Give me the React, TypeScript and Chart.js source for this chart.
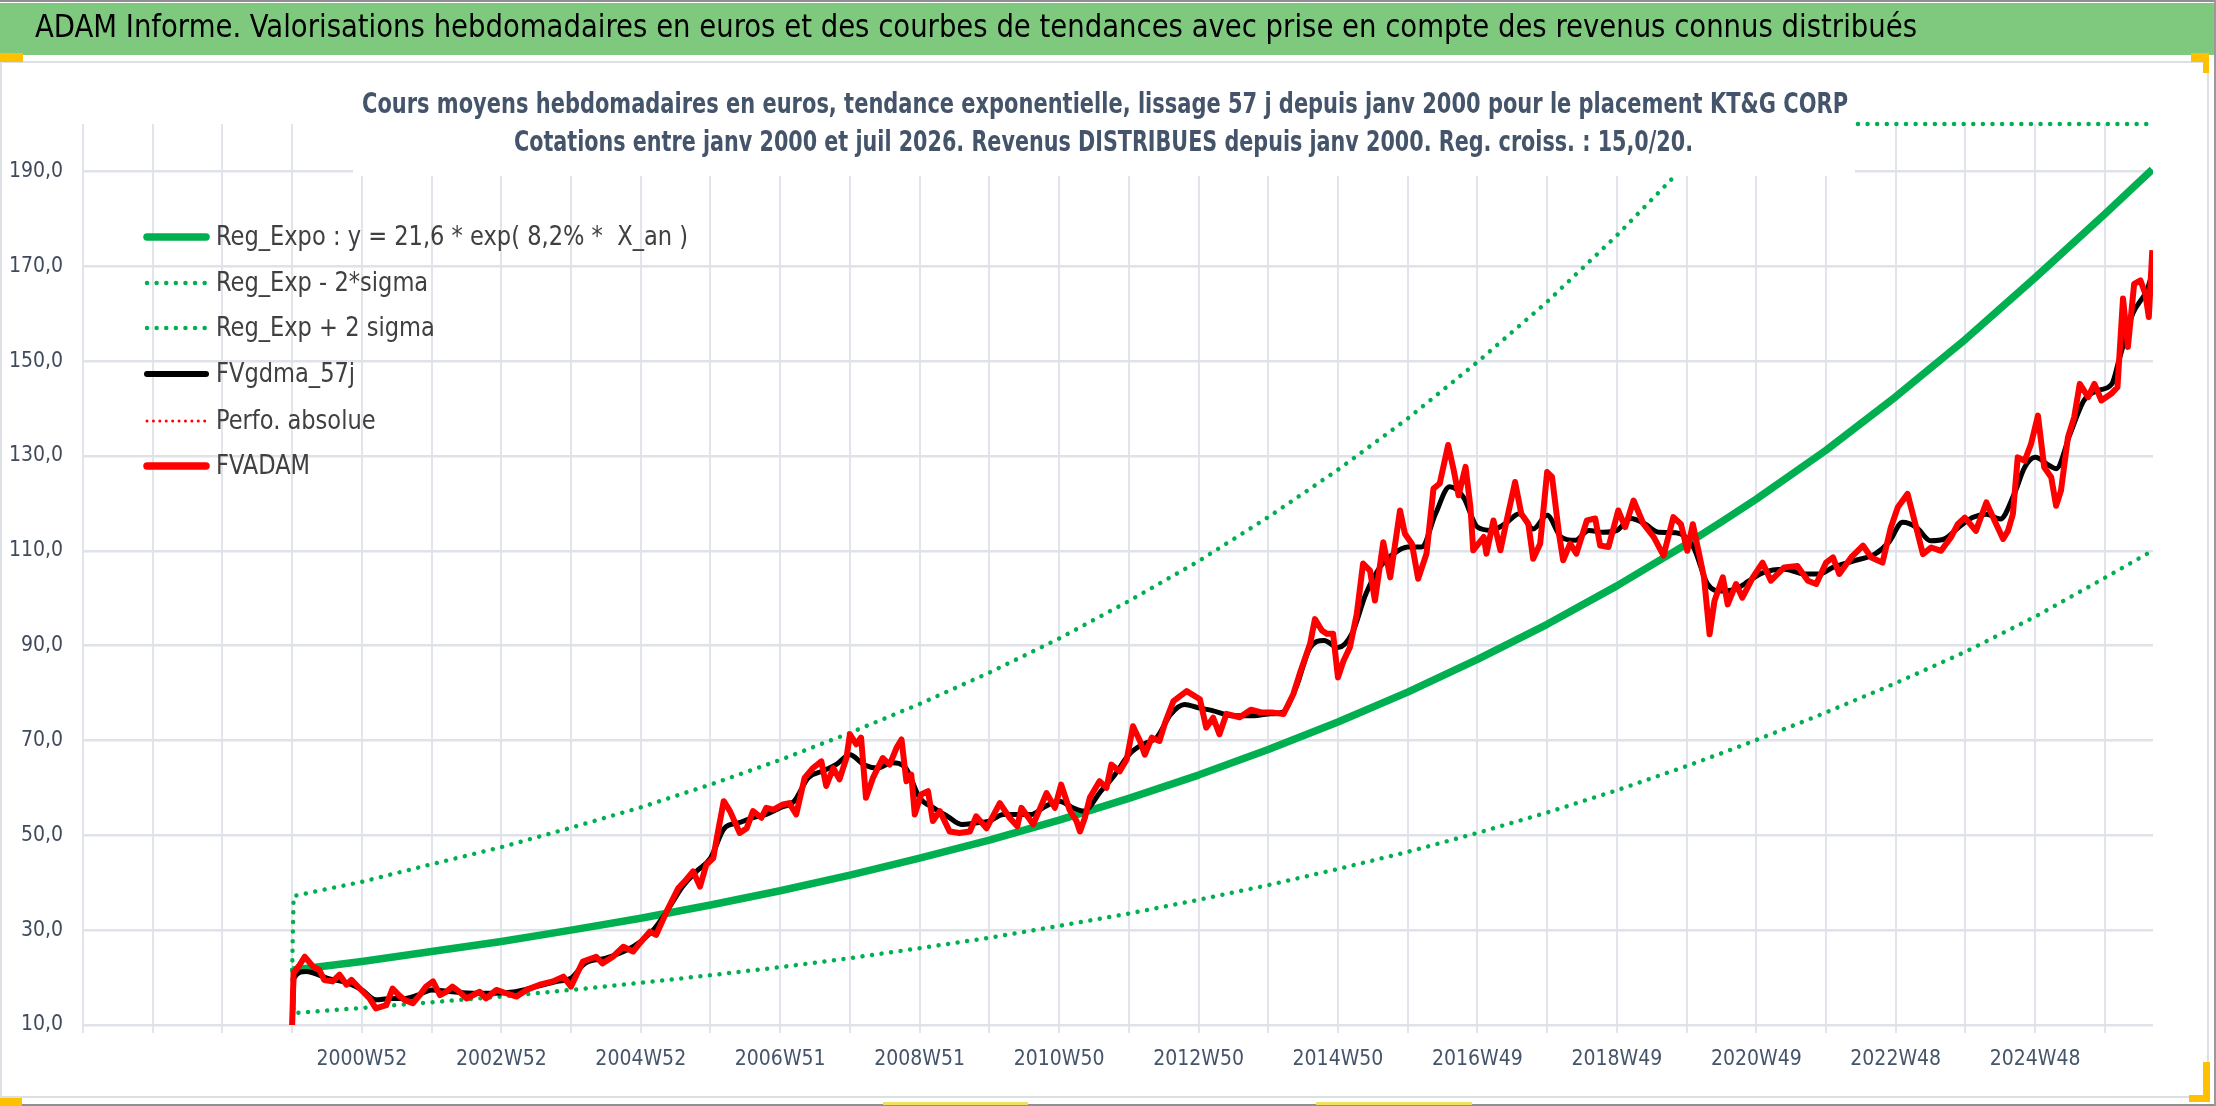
import { useEffect, useRef } from 'react';
import { Chart, registerables } from 'chart.js';

Chart.register(...registerables);

const FONT = '"Liberation Sans Narrow", "DejaVu Sans Condensed", "Open Sans", sans-serif';
const GREEN = '#00b050';
const RED = '#ff0000';

const mainTitle =
  'ADAM Informe. Valorisations hebdomadaires en euros et des courbes de tendances avec prise en compte des revenus connus distribués';
const subTitle = [
  'Cours moyens hebdomadaires en euros, tendance exponentielle, lissage 57 j depuis janv 2000 pour le placement KT&G CORP',
  'Cotations entre janv 2000 et juil 2026. Revenus DISTRIBUES depuis janv 2000. Reg. croiss. : 15,0/20.',
];
const seriesNames = [
  'Reg_Expo : y = 21,6 * exp( 8,2% *  X_an )',
  'Reg_Exp - 2*sigma',
  'Reg_Exp + 2 sigma',
  'FVgdma_57j',
  'Perfo. absolue',
  'FVADAM',
];

// x is counted in 52-week steps, 2000 = first week of 2000
const gridYears = Array.from({ length: 30 }, (_, i) => 1997 + i);
const labelYears = [2001, 2003, 2005, 2007, 2009, 2011, 2013, 2015, 2017, 2019, 2021, 2023, 2025];
const xTickLabels = [
  '2000W52', '2002W52', '2004W52', '2006W51', '2008W51', '2010W50', '2012W50',
  '2014W50', '2016W49', '2018W49', '2020W49', '2022W48', '2024W48',
];
const yTicks = [10, 30, 50, 70, 90, 110, 130, 150, 170, 190];

// trend curves
const trendYears = [
  2000, 2000.02, 2001, 2002, 2003, 2004, 2005, 2006, 2007, 2008, 2009, 2010, 2011, 2012, 2013,
  2014, 2015, 2016, 2017, 2018, 2019, 2020, 2020.5, 2021, 2022, 2023, 2024, 2025, 2026, 2026.68,
];
const regExpo = [
  21.6, 21.6, 23.4, 25.5, 27.6, 30.0, 32.5, 35.3, 38.3, 41.6, 45.2, 49.0, 53.2, 57.8, 62.7,
  68.1, 73.9, 80.2, 87.1, 94.5, 102.6, 111.4, 116.1, 120.9, 131.2, 142.5, 154.6, 167.6, 181.0, 190.4,
];
const regMinus2Sigma = [
  21.6, 12.5, 13.6, 14.8, 16.0, 17.4, 18.9, 20.5, 22.2, 24.1, 26.2, 28.4, 30.9, 33.5, 36.4,
  39.5, 42.9, 46.5, 50.5, 54.8, 59.5, 64.6, 67.3, 70.1, 75.9, 82.1, 88.7, 96.1, 104.3, 110.0,
];
// sits on the top edge of the plot once it leaves the scale
const regPlus2Sigma = [
  21.6, 37.2, 40.2, 43.9, 47.5, 51.6, 55.9, 60.7, 65.9, 71.6, 77.7, 84.3, 91.5, 99.4, 107.8,
  117.1, 127.1, 137.9, 149.8, 162.5, 176.5, 191.6, 200, 200, 200, 200, 200, 200, 200, 200,
];

const fvgdma57j: [number, number][] = [
  [2000.0, 10], [2000.03, 20.0], [2000.2, 21.3], [2000.5, 19.9], [2000.8, 18.8], [2001.0, 17.4],
  [2001.2, 15.3], [2001.4, 15.6], [2001.6, 15.6], [2001.8, 16.3], [2002.0, 17.4], [2002.3, 17.0],
  [2002.6, 16.7], [2002.9, 16.7], [2003.2, 17.0], [2003.5, 18.1], [2003.8, 19.2], [2004.0, 19.9],
  [2004.2, 23.0], [2004.5, 24.1], [2004.8, 25.8], [2005.0, 27.6], [2005.2, 30.4], [2005.4, 34.6],
  [2005.6, 39.2], [2005.8, 42.4], [2006.0, 45.2], [2006.2, 51.5], [2006.4, 52.6], [2006.6, 53.7],
  [2006.8, 54.4], [2007.0, 55.8], [2007.2, 57.2], [2007.4, 62.1], [2007.6, 63.5], [2007.8, 64.9],
  [2008.0, 67.0], [2008.2, 64.9], [2008.4, 64.2], [2008.6, 65.3], [2008.8, 64.2], [2009.0, 57.9],
  [2009.2, 55.8], [2009.4, 54.0], [2009.6, 52.3], [2009.8, 52.6], [2010.0, 53.0], [2010.2, 54.4],
  [2010.4, 54.4], [2010.6, 54.4], [2010.8, 56.1], [2011.0, 57.2], [2011.2, 55.8], [2011.35, 55.1],
  [2011.6, 59.3], [2011.8, 62.8], [2012.0, 67.0], [2012.2, 69.2], [2012.4, 70.6], [2012.6, 75.5],
  [2012.8, 77.6], [2013.0, 76.9], [2013.2, 76.3], [2013.5, 75.2], [2013.8, 75.2], [2014.0, 75.6],
  [2014.2, 75.9], [2014.4, 81.2], [2014.6, 89.6], [2014.8, 91.1], [2015.0, 89.6], [2015.2, 92.5],
  [2015.4, 100.9], [2015.6, 106.5], [2015.8, 109.4], [2016.0, 110.8], [2016.2, 110.8], [2016.4, 117.8],
  [2016.6, 123.5], [2016.8, 121.3], [2017.0, 115.0], [2017.2, 114.3], [2017.4, 115.7], [2017.6, 117.8],
  [2017.8, 114.6], [2018.0, 117.5], [2018.2, 112.9], [2018.4, 112.2], [2018.6, 114.3], [2018.8, 113.9],
  [2019.0, 114.3], [2019.2, 116.8], [2019.4, 115.7], [2019.6, 113.9], [2019.85, 113.8], [2020.1, 110.7],
  [2020.3, 103.0], [2020.5, 101.5], [2020.7, 101.9], [2020.9, 103.7], [2021.1, 105.4], [2021.4, 106.1],
  [2021.7, 105.1], [2021.9, 105.1], [2022.1, 106.5], [2022.4, 107.9], [2022.7, 109.3], [2022.9, 111.8],
  [2023.1, 116.0], [2023.3, 114.9], [2023.5, 112.1], [2023.7, 112.5], [2023.9, 114.9], [2024.1, 117.0],
  [2024.3, 117.7], [2024.5, 116.7], [2024.7, 122.0], [2024.85, 127.6], [2025.0, 129.7], [2025.2, 128.0],
  [2025.3, 127.3], [2025.5, 134.6], [2025.7, 141.7], [2025.9, 143.8], [2026.1, 145.2], [2026.2, 150.1],
  [2026.4, 160.0], [2026.6, 164.9], [2026.68, 168.5],
];

const fvadam: [number, number][] = [
  [2000.0, 10], [2000.02, 21.0], [2000.1, 22.5], [2000.18, 24.4], [2000.3, 22.3], [2000.39, 21.6],
  [2000.46, 19.5], [2000.58, 19.2], [2000.68, 20.6], [2000.78, 18.5], [2000.85, 19.5], [2000.97, 17.7],
  [2001.11, 15.6], [2001.2, 13.5], [2001.35, 14.2], [2001.44, 17.7], [2001.53, 16.3], [2001.61, 15.3],
  [2001.73, 14.6], [2001.83, 16.3], [2001.92, 18.1], [2002.02, 19.2], [2002.12, 16.3], [2002.21, 17.0],
  [2002.3, 18.1], [2002.4, 17.0], [2002.5, 15.6], [2002.69, 17.0], [2002.78, 15.6], [2002.93, 17.4],
  [2003.07, 16.7], [2003.22, 16.0], [2003.36, 17.4], [2003.55, 18.5], [2003.74, 19.2], [2003.89, 20.2],
  [2004.0, 18.1], [2004.17, 23.4], [2004.36, 24.4], [2004.45, 23.0], [2004.6, 24.4], [2004.75, 26.5],
  [2004.89, 25.5], [2004.99, 27.3], [2005.13, 29.7], [2005.22, 29.0], [2005.37, 33.9], [2005.54, 38.9],
  [2005.63, 40.3], [2005.75, 42.4], [2005.85, 39.2], [2005.94, 43.8], [2006.04, 45.2], [2006.09, 49.4],
  [2006.19, 57.2], [2006.28, 55.1], [2006.42, 50.5], [2006.52, 51.5], [2006.61, 55.1], [2006.73, 53.7],
  [2006.8, 55.8], [2006.9, 55.4], [2007.04, 56.5], [2007.13, 56.8], [2007.23, 54.4], [2007.35, 62.1],
  [2007.47, 64.2], [2007.59, 65.6], [2007.66, 60.4], [2007.76, 64.2], [2007.85, 61.8], [2007.95, 66.3],
  [2008.0, 71.3], [2008.09, 69.2], [2008.16, 70.6], [2008.23, 57.9], [2008.33, 62.1], [2008.47, 66.3],
  [2008.57, 64.9], [2008.67, 68.5], [2008.74, 70.2], [2008.81, 61.4], [2008.88, 62.8], [2008.93, 54.4],
  [2009.02, 58.6], [2009.12, 59.3], [2009.19, 53.0], [2009.29, 55.1], [2009.43, 50.8], [2009.57, 50.5],
  [2009.72, 50.8], [2009.81, 54.0], [2009.96, 51.5], [2010.15, 56.8], [2010.29, 53.7], [2010.4, 51.9],
  [2010.46, 55.8], [2010.63, 52.3], [2010.82, 58.9], [2010.94, 55.8], [2011.03, 60.7], [2011.15, 55.4],
  [2011.25, 53.0], [2011.3, 50.8], [2011.37, 53.7], [2011.44, 57.9], [2011.58, 61.4], [2011.68, 60.0],
  [2011.75, 64.9], [2011.87, 63.5], [2011.97, 66.0], [2012.06, 73.0], [2012.16, 69.9], [2012.23, 67.0],
  [2012.33, 70.6], [2012.44, 69.9], [2012.52, 73.7], [2012.64, 78.3], [2012.83, 80.4], [2013.02, 78.7],
  [2013.11, 72.7], [2013.21, 74.8], [2013.3, 71.3], [2013.4, 75.6], [2013.59, 74.9], [2013.75, 76.5],
  [2013.9, 75.9], [2014.05, 75.9], [2014.22, 75.6], [2014.36, 79.8], [2014.45, 84.0], [2014.6, 90.4],
  [2014.67, 95.6], [2014.77, 93.2], [2014.84, 92.5], [2014.93, 92.5], [2015.0, 83.3], [2015.08, 86.8],
  [2015.17, 89.6], [2015.27, 96.7], [2015.36, 107.3], [2015.46, 105.8], [2015.53, 99.5], [2015.65, 111.8],
  [2015.75, 104.4], [2015.89, 118.5], [2015.96, 113.6], [2016.06, 111.5], [2016.15, 104.1], [2016.27, 109.4],
  [2016.37, 123.1], [2016.46, 124.2], [2016.58, 132.3], [2016.66, 127.0], [2016.73, 121.7], [2016.83, 127.7],
  [2016.9, 119.2], [2016.94, 110.1], [2017.09, 112.9], [2017.13, 109.4], [2017.23, 116.4], [2017.33, 110.1],
  [2017.42, 116.4], [2017.54, 124.5], [2017.63, 117.8], [2017.73, 115.7], [2017.8, 108.3], [2017.9, 111.5],
  [2018.0, 126.6], [2018.07, 125.6], [2018.17, 113.6], [2018.23, 108.0], [2018.33, 111.5], [2018.42, 109.4],
  [2018.57, 116.4], [2018.69, 116.8], [2018.76, 111.1], [2018.88, 110.8], [2019.02, 118.5], [2019.12, 115.0],
  [2019.24, 120.6], [2019.38, 115.7], [2019.53, 112.9], [2019.67, 109.0], [2019.81, 117.1], [2019.92, 115.6],
  [2020.01, 110.0], [2020.09, 115.6], [2020.16, 110.7], [2020.25, 104.4], [2020.33, 92.4], [2020.4, 99.4],
  [2020.52, 104.4], [2020.59, 98.7], [2020.71, 103.0], [2020.8, 100.1], [2020.95, 104.4], [2021.09, 107.5],
  [2021.21, 103.7], [2021.4, 106.5], [2021.59, 106.8], [2021.74, 103.7], [2021.86, 103.0], [2022.0, 107.5],
  [2022.1, 108.6], [2022.19, 105.1], [2022.36, 108.6], [2022.53, 111.1], [2022.65, 108.6], [2022.81, 107.5],
  [2022.93, 114.9], [2023.03, 119.2], [2023.17, 122.0], [2023.27, 116.3], [2023.39, 109.3], [2023.51, 110.7],
  [2023.65, 110.0], [2023.79, 112.8], [2023.89, 115.6], [2023.99, 117.0], [2024.15, 114.2], [2024.3, 120.2],
  [2024.42, 116.3], [2024.54, 112.5], [2024.61, 114.2], [2024.68, 117.7], [2024.75, 129.7], [2024.85, 129.0],
  [2024.94, 132.5], [2025.04, 138.5], [2025.13, 127.6], [2025.23, 125.5], [2025.3, 119.5], [2025.37, 122.7],
  [2025.47, 133.9], [2025.56, 138.2], [2025.64, 145.2], [2025.76, 142.4], [2025.85, 145.2], [2025.95, 141.7],
  [2026.09, 143.1], [2026.18, 144.5], [2026.26, 163.2], [2026.33, 153.0], [2026.42, 166.3], [2026.51, 167.0],
  [2026.58, 164.2], [2026.63, 159.3], [2026.68, 173.4],
];

const perfoAbsolue: [number, number][] = [];

const legendLook = [
  { color: GREEN, width: 7.5, dash: [] as number[] },
  { color: GREEN, width: 4.5, dash: [0.01, 9.6] },
  { color: GREEN, width: 4.5, dash: [0.01, 9.6] },
  { color: '#000000', width: 6, dash: [] as number[] },
  { color: RED, width: 3, dash: [0.01, 6.4] },
  { color: RED, width: 7.5, dash: [] as number[] },
];
const legendRows = [237, 283, 328, 374, 421, 466];

function fitText(ctx: CanvasRenderingContext2D, text: string, x: number, y: number, width: number) {
  const w = ctx.measureText(text).width;
  ctx.save();
  ctx.translate(x, y);
  ctx.scale(width / w, 1);
  ctx.fillText(text, 0, 0);
  ctx.restore();
}

const overlayPlugin = {
  id: 'overlay',
  afterDraw(chart: any) {
    const ctx: CanvasRenderingContext2D = chart.ctx;
    ctx.save();
    ctx.textBaseline = 'middle';
    ctx.textAlign = 'left';

    // main title in the green bar
    ctx.fillStyle = '#000000';
    ctx.font = `32px ${FONT}`;
    fitText(ctx, mainTitle, 35, 29, 1882);

    // chart title box, drawn over the plot like Excel does
    ctx.fillStyle = '#ffffff';
    ctx.fillRect(353, 64, 1502, 112);
    ctx.fillStyle = '#44546a';
    ctx.font = `bold 28px ${FONT}`;
    fitText(ctx, subTitle[0], 362, 106, 1486);
    fitText(ctx, subTitle[1], 514, 144, 1179);

    // legend
    ctx.font = `27px ${FONT}`;
    const sx = 472 / ctx.measureText(seriesNames[0]).width;
    seriesNames.forEach((name, i) => {
      const look = legendLook[i];
      const y = legendRows[i];
      ctx.save();
      ctx.strokeStyle = look.color;
      ctx.lineWidth = look.width;
      ctx.lineCap = 'round';
      ctx.setLineDash(look.dash);
      ctx.beginPath();
      ctx.moveTo(147, y);
      ctx.lineTo(look.dash.length ? 207 : 206, y);
      ctx.stroke();
      ctx.restore();
      ctx.fillStyle = '#404040';
      const w = ctx.measureText(name).width;
      fitText(ctx, name, 216, y + 1, w * sx);
    });
    ctx.restore();
  },
};

const toPoints = (xs: number[], ys: number[]) => xs.map((x, i) => ({ x, y: ys[i] }));
const pairPoints = (list: [number, number][]) => list.map(([x, y]) => ({ x, y }));

export default function App() {
  const canvasRef = useRef<HTMLCanvasElement>(null);
  const chartRef = useRef<any>(null);

  useEffect(() => {
    if (!canvasRef.current) return;
    if (chartRef.current) chartRef.current.destroy();

    const dotted = {
      borderColor: GREEN,
      borderWidth: 4.5,
      borderDash: [0.01, 9.6],
      borderCapStyle: 'round' as const,
      pointRadius: 0,
      tension: 0,
      clip: 6,
    };

    chartRef.current = new Chart(canvasRef.current, {
      type: 'line',
      data: {
        datasets: [
          {
            label: seriesNames[0],
            data: toPoints(trendYears, regExpo),
            borderColor: GREEN,
            borderWidth: 7.5,
            borderJoinStyle: 'round',
            pointRadius: 0,
            tension: 0,
            order: 5,
          },
          { label: seriesNames[1], data: toPoints(trendYears, regMinus2Sigma), ...dotted, order: 4 },
          { label: seriesNames[2], data: toPoints(trendYears, regPlus2Sigma), ...dotted, order: 3 },
          {
            label: seriesNames[3],
            data: pairPoints(fvgdma57j),
            borderColor: '#000000',
            borderWidth: 5,
            pointRadius: 0,
            cubicInterpolationMode: 'monotone',
            order: 2,
          },
          {
            label: seriesNames[4],
            data: pairPoints(perfoAbsolue),
            borderColor: RED,
            borderWidth: 3,
            borderDash: [0.01, 6.4],
            pointRadius: 0,
            order: 1,
          },
          {
            label: seriesNames[5],
            data: pairPoints(fvadam),
            borderColor: RED,
            borderWidth: 6,
            borderJoinStyle: 'round',
            pointRadius: 0,
            tension: 0,
            order: 0,
          },
        ],
      },
      options: {
        animation: false,
        responsive: false,
        devicePixelRatio: 1,
        layout: { padding: { left: 0, top: 124, right: 63, bottom: 0 } },
        plugins: {
          legend: { display: false },
          title: { display: false },
          tooltip: { enabled: false },
        },
        scales: {
          x: {
            type: 'linear',
            min: 1997,
            max: 2026.69,
            afterBuildTicks: (scale: any) => {
              scale.ticks = gridYears.map((v) => ({ value: v }));
            },
            afterFit: (scale: any) => {
              scale.height = 81;
            },
            grid: { color: '#e1e4ea', lineWidth: 2, drawTicks: true, tickLength: 8, tickColor: '#e1e4ea' },
            border: { display: false },
            ticks: {
              autoSkip: false,
              maxRotation: 0,
              padding: 14,
              color: '#44546a',
              font: { family: FONT, size: 21 },
              callback: (value: any) => {
                const i = labelYears.indexOf(Number(value));
                return i >= 0 ? xTickLabels[i] : '';
              },
            },
          },
          y: {
            min: 10,
            max: 200,
            afterBuildTicks: (scale: any) => {
              scale.ticks = yTicks.map((v) => ({ value: v }));
            },
            afterFit: (scale: any) => {
              scale.width = 83;
            },
            grid: { color: '#dfe2e8', lineWidth: 2.5, drawTicks: false },
            border: { display: false },
            ticks: {
              padding: 20,
              color: '#404a5a',
              font: { family: FONT, size: 21 },
              callback: (value: any) => Number(value).toFixed(1).replace('.', ','),
            },
          },
        },
      },
      plugins: [overlayPlugin],
    } as any);

    return () => {
      if (chartRef.current) {
        chartRef.current.destroy();
        chartRef.current = null;
      }
    };
  }, []);

  const box = (left: number, top: number, width: number, height: number, background: string) => (
    <div style={{ position: 'absolute', left, top, width, height, background }} />
  );

  return (
    <div
      style={{
        position: 'fixed',
        left: 0,
        top: 0,
        width: 2216,
        height: 1106,
        background: '#ffffff',
        overflow: 'hidden',
      }}
    >
      {box(0, 0, 2216, 2, '#8f8f8f')}
      {box(0, 3, 2214, 52, '#7fc97f')}
      <div
        style={{
          position: 'absolute',
          left: 0,
          top: 61,
          width: 2209,
          height: 1037,
          border: '2px solid #dcdfe4',
          boxSizing: 'border-box',
        }}
      />
      {box(0, 1104, 2216, 2, '#8f8f8f')}
      {box(2214, 0, 2, 1106, '#9a9a9a')}
      {box(0, 53, 23, 9, '#ffc000')}
      {box(2191, 53, 18, 9, '#ffc000')}
      {box(2203, 53, 6, 20, '#ffc000')}
      {box(2203, 1062, 7, 40, '#ffc000')}
      {box(2189, 1095, 21, 7, '#ffc000')}
      {box(0, 1098, 22, 8, '#ffc000')}
      {box(883, 1102, 145, 3, '#f0e060')}
      {box(1316, 1102, 156, 3, '#f0e060')}
      <canvas
        ref={canvasRef}
        width={2216}
        height={1106}
        style={{ position: 'absolute', left: 0, top: 0, width: 2216, height: 1106 }}
      />
    </div>
  );
}
